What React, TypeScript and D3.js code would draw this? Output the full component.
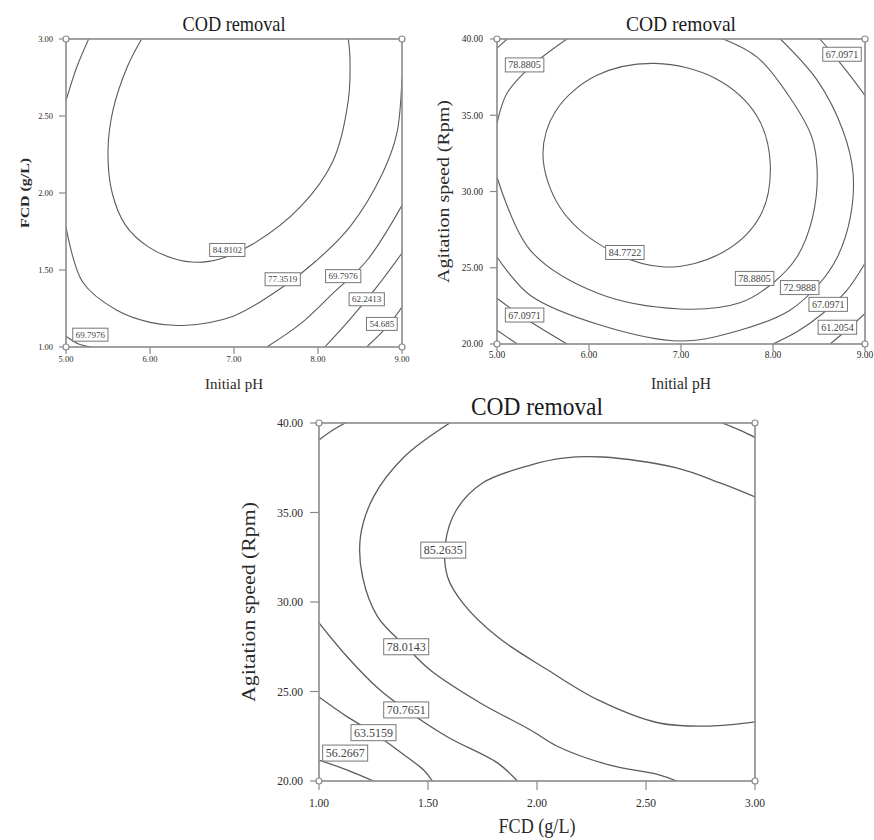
import * as d3 from 'd3'

type Pt = [number, number]
type Contour = { pts: Pt[]; closed?: boolean }
type Tag = [string, number, number]

// ---- axis ticks ----
const phTicks = [5, 6, 7, 8, 9]
const fcdTicks = [1, 1.5, 2, 2.5, 3]
const rpmTicks = [20, 25, 30, 35, 40]

// ---- panel A: Initial pH vs FCD ----
const contoursA: Contour[] = [
  { pts: [[5.9, 3.0], [5.73, 2.82], [5.56, 2.54], [5.5, 2.28], [5.55, 2.0], [5.71, 1.79], [5.98, 1.65], [6.28, 1.575], [6.56, 1.55], [6.85, 1.575], [7.23, 1.67], [7.79, 1.91], [8.18, 2.21], [8.36, 2.6], [8.38, 2.88], [8.36, 3.0]] },
  { pts: [[5.0, 1.78], [5.2, 1.42], [5.6, 1.24], [6.0, 1.16], [6.39, 1.14], [6.99, 1.2], [7.58, 1.39], [7.98, 1.56], [8.38, 1.78], [8.77, 2.13], [8.94, 2.39], [9.0, 2.75]] },
  { pts: [[5.27, 3.0], [5.13, 2.82], [5.0, 2.6]] },
  { pts: [[7.39, 1.0], [7.79, 1.15], [8.18, 1.35], [8.58, 1.56], [9.0, 1.92]] },
  { pts: [[8.08, 1.0], [8.38, 1.18], [8.7, 1.39], [9.0, 1.61]] },
  { pts: [[8.58, 1.0], [8.82, 1.13], [9.0, 1.26]] },
  { pts: [[5.0, 1.07], [5.15, 1.02], [5.3, 1.0]] },
]
const tagsA: Tag[] = [
  ['84.8102', 6.92, 1.63],
  ['77.3519', 7.58, 1.44],
  ['69.7976', 8.3, 1.46],
  ['62.2413', 8.58, 1.31],
  ['54.685', 8.76, 1.15],
  ['69.7976', 5.29, 1.08],
]

// ---- panel B: Initial pH vs Agitation speed ----
const contoursB: Contour[] = [
  { closed: true, pts: [[7.97, 31.8], [7.82, 35.0], [7.38, 37.4], [6.72, 38.4], [6.08, 37.6], [5.64, 35.3], [5.5, 32.4], [5.68, 29.0], [6.15, 26.4], [6.82, 25.05], [7.45, 26.0], [7.86, 28.4]] },
  { pts: [[5.76, 40], [5.36, 38.16], [5.11, 36.46], [5.0, 34.49]] },
  { pts: [[5.0, 30.95], [5.36, 26.16], [6.09, 23.34], [6.99, 22.3], [7.64, 22.7], [8.0, 24.0], [8.26, 25.7], [8.43, 28.3], [8.48, 31.4], [8.42, 33.6], [8.18, 36.2], [7.83, 38.8], [7.46, 40]] },
  { pts: [[5.11, 40], [5.0, 39.4]] },
  { pts: [[5.0, 25.7], [5.36, 23.2], [6.12, 21.25], [6.99, 20.2], [7.64, 20.9], [8.18, 22.2], [8.51, 24.0], [8.7, 25.7], [8.84, 28.3], [8.87, 31.2], [8.76, 34.0], [8.48, 37.3], [8.08, 40]] },
  { pts: [[8.51, 40], [8.76, 38.2], [9.0, 36.3]] },
  { pts: [[9.0, 25.3], [8.8, 23.5], [8.54, 22.0], [8.26, 20.8], [8.0, 20]] },
  { pts: [[5.0, 23.0], [5.3, 21.7], [5.76, 20]] },
  { pts: [[9.0, 22.0], [8.8, 20.9], [8.62, 20]] },
  { pts: [[5.0, 20.9], [5.22, 20]] },
]
const tagsB: Tag[] = [
  ['78.8805', 5.3, 38.3],
  ['84.7722', 6.39, 26.0],
  ['78.8805', 7.8, 24.3],
  ['72.9888', 8.29, 23.7],
  ['67.0971', 8.6, 22.6],
  ['61.2054', 8.7, 21.1],
  ['67.0971', 8.75, 39.0],
  ['67.0971', 5.3, 21.9],
]

// ---- panel C: FCD vs Agitation speed ----
const contoursC: Contour[] = [
  { pts: [[3.0, 35.87], [2.84, 36.65], [2.64, 37.49], [2.3, 38.1], [2.12, 38.04], [1.97, 37.65], [1.75, 36.65], [1.63, 35.14], [1.58, 33.3], [1.59, 31.4], [1.66, 29.94], [1.82, 28.04], [2.05, 26.2], [2.28, 24.53], [2.56, 23.24], [2.79, 23.07], [3.0, 23.3]] },
  { pts: [[1.6, 40], [1.39, 38.1], [1.25, 35.87], [1.19, 33.63], [1.2, 31.4], [1.27, 29.16], [1.4, 27.5], [1.51, 26.2], [1.74, 24.36], [1.97, 22.85], [2.1, 21.9], [2.33, 20.9], [2.56, 20.34], [2.64, 20.0]] },
  { pts: [[1.0, 28.83], [1.13, 26.93], [1.28, 25.08], [1.4, 23.97], [1.59, 22.46], [1.82, 21.0], [1.91, 20]] },
  { pts: [[1.0, 24.69], [1.13, 23.58], [1.25, 22.7], [1.36, 21.73], [1.48, 20.61], [1.52, 20]] },
  { pts: [[1.0, 21.17], [1.13, 20.61], [1.25, 20]] },
  { pts: [[1.12, 40], [1.05, 39.5], [1.0, 39.05]] },
  { pts: [[2.85, 40], [2.93, 39.6], [3.0, 39.2]] },
]
const tagsC: Tag[] = [
  ['85.2635', 1.57, 32.9],
  ['78.0143', 1.4, 27.5],
  ['70.7651', 1.4, 23.97],
  ['63.5159', 1.25, 22.7],
  ['56.2667', 1.12, 21.56],
]

const FONT = '"Liberation Serif", "Times New Roman", serif'
const FRAME = '#8a8a8a'
const LINE = '#5c5c5c'
const INK = '#2a2a2a'

type PanelCfg = {
  id: string
  x0: number; x1: number; y0: number; y1: number
  xDomain: Pt; yDomain: Pt
  xTicks: number[]; yTicks: number[]
  contours: Contour[]; tags: Tag[]
  title: string; titleY: number; titleSize: number; titleLen: number
  xTitle: string; xTitleY: number; xTitleSize: number; xTitleLen: number
  yTitle: string; yTitleX: number; yTitleSize: number; yTitleLen: number; yTitleBold?: boolean
  tickSize: number; tickLen: number; xLabelDy: number; yLabelDx: number
  tagSize: number; lineW: number
}

function Panel({ c }: { c: PanelCfg }) {
  const x = d3.scaleLinear().domain(c.xDomain).range([c.x0, c.x1])
  const y = d3.scaleLinear().domain(c.yDomain).range([c.y1, c.y0])
  const open = d3.line<Pt>().x(d => x(d[0])).y(d => y(d[1])).curve(d3.curveCatmullRom.alpha(0.5))
  const closed = d3.line<Pt>().x(d => x(d[0])).y(d => y(d[1])).curve(d3.curveCatmullRomClosed.alpha(0.5))
  const fmt = d3.format('.2f')
  const cx = (c.x0 + c.x1) / 2
  const cy = (c.y0 + c.y1) / 2
  const tagW = (s: string) => s.split('').reduce((w, ch) => w + (ch === '.' ? 0.25 : 0.5), 0) * c.tagSize

  return (
    <g>
      <defs>
        <clipPath id={`clip-${c.id}`}>
          <rect x={c.x0} y={c.y0} width={c.x1 - c.x0} height={c.y1 - c.y0} />
        </clipPath>
      </defs>
      <g clipPath={`url(#clip-${c.id})`}>
        {c.contours.map((k, i) => (
          <path key={i} d={(k.closed ? closed : open)(k.pts) || ''} fill="none" stroke={LINE} strokeWidth={c.lineW} />
        ))}
      </g>
      <rect x={c.x0} y={c.y0} width={c.x1 - c.x0} height={c.y1 - c.y0} fill="none" stroke={FRAME} strokeWidth={1.6} />

      {c.xTicks.map(t => (
        <g key={'x' + t}>
          <line x1={x(t)} x2={x(t)} y1={c.y1} y2={c.y1 + c.tickLen} stroke={FRAME} strokeWidth={1.2} />
          <text x={x(t)} y={c.y1 + c.xLabelDy} textAnchor="middle" fontSize={c.tickSize} fill={INK} fontFamily={FONT}>{fmt(t)}</text>
        </g>
      ))}
      {c.yTicks.map(t => (
        <g key={'y' + t}>
          <line x1={c.x0 - c.tickLen} x2={c.x0} y1={y(t)} y2={y(t)} stroke={FRAME} strokeWidth={1.2} />
          <text x={c.x0 - c.yLabelDx} y={y(t)} dy="0.35em" textAnchor="end" fontSize={c.tickSize} fill={INK} fontFamily={FONT}>{fmt(t)}</text>
        </g>
      ))}

      {[[c.x0, c.y0], [c.x1, c.y0], [c.x0, c.y1], [c.x1, c.y1]].map(([px, py], i) => (
        <circle key={i} cx={px} cy={py} r={3} fill="#fff" stroke={FRAME} strokeWidth={1.2} />
      ))}

      {c.tags.map(([s, vx, vy], i) => {
        const w = tagW(s) + 6
        const h = c.tagSize + 4
        return (
          <g key={i}>
            <rect x={x(vx) - w / 2} y={y(vy) - h / 2} width={w} height={h} fill="#fff" stroke="#777" strokeWidth={1} />
            <text x={x(vx)} y={y(vy)} dy="0.35em" textAnchor="middle" fontSize={c.tagSize} fill="#444" fontFamily={FONT}>{s}</text>
          </g>
        )
      })}

      <text x={cx} y={c.titleY} textAnchor="middle" fontSize={c.titleSize} fill="#1a1a1a" fontFamily={FONT}
        textLength={c.titleLen} lengthAdjust="spacingAndGlyphs">{c.title}</text>
      <text x={cx} y={c.xTitleY} textAnchor="middle" fontSize={c.xTitleSize} fill={INK} fontFamily={FONT}
        textLength={c.xTitleLen} lengthAdjust="spacingAndGlyphs">{c.xTitle}</text>
      <text transform={`translate(${c.yTitleX},${cy}) rotate(-90)`} textAnchor="middle" fontSize={c.yTitleSize}
        fontWeight={c.yTitleBold ? 'bold' : 'normal'} fill={INK} fontFamily={FONT}
        textLength={c.yTitleLen} lengthAdjust="spacingAndGlyphs">{c.yTitle}</text>
    </g>
  )
}

const panels: PanelCfg[] = [
  {
    id: 'a', x0: 66, x1: 402, y0: 39, y1: 347,
    xDomain: [5, 9], yDomain: [1, 3], xTicks: phTicks, yTicks: fcdTicks,
    contours: contoursA, tags: tagsA,
    title: 'COD removal', titleY: 31, titleSize: 21, titleLen: 103,
    xTitle: 'Initial pH', xTitleY: 389, xTitleSize: 15, xTitleLen: 58,
    yTitle: 'FCD (g/L)', yTitleX: 29, yTitleSize: 13, yTitleLen: 70, yTitleBold: true,
    tickSize: 8.5, tickLen: 7, xLabelDy: 15, yLabelDx: 13,
    tagSize: 9, lineW: 1.1,
  },
  {
    id: 'b', x0: 497, x1: 865, y0: 39, y1: 344,
    xDomain: [5, 9], yDomain: [20, 40], xTicks: phTicks, yTicks: rpmTicks,
    contours: contoursB, tags: tagsB,
    title: 'COD removal', titleY: 31, titleSize: 22, titleLen: 110,
    xTitle: 'Initial pH', xTitleY: 389, xTitleSize: 16, xTitleLen: 60,
    yTitle: 'Agitation speed (Rpm)', yTitleX: 449, yTitleSize: 17, yTitleLen: 183,
    tickSize: 9.5, tickLen: 7, xLabelDy: 14, yLabelDx: 14,
    tagSize: 10, lineW: 1.1,
  },
  {
    id: 'c', x0: 319, x1: 755, y0: 423, y1: 781,
    xDomain: [1, 3], yDomain: [20, 40], xTicks: fcdTicks, yTicks: rpmTicks,
    contours: contoursC, tags: tagsC,
    title: 'COD removal', titleY: 415, titleSize: 25, titleLen: 132,
    xTitle: 'FCD (g/L)', xTitleY: 833, xTitleSize: 20, xTitleLen: 77,
    yTitle: 'Agitation speed (Rpm)', yTitleX: 255, yTitleSize: 19, yTitleLen: 200,
    tickSize: 11.5, tickLen: 9, xLabelDy: 26, yLabelDx: 16,
    tagSize: 12, lineW: 1.3,
  },
]

export default function App() {
  return (
    <svg width={874} height={840} style={{ position: 'absolute', left: 0, top: 0, background: '#fff' }}>
      <rect width={874} height={840} fill="#fff" />
      {panels.map(p => <Panel key={p.id} c={p} />)}
    </svg>
  )
}
